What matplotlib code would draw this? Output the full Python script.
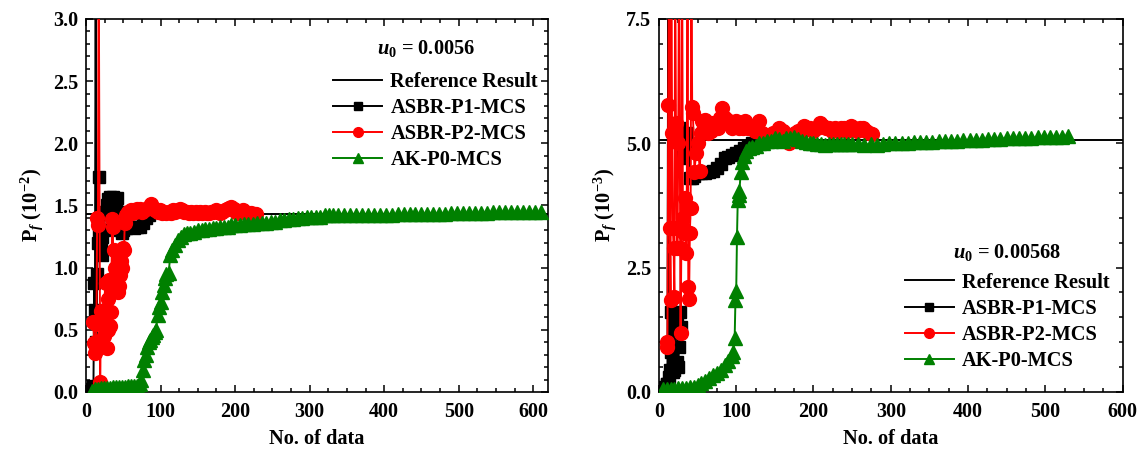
import matplotlib
matplotlib.use("Agg")
import matplotlib.pyplot as plt
from matplotlib.ticker import MultipleLocator

plt.rcParams["font.family"] = ["Liberation Serif", "DejaVu Serif"]
plt.rcParams["font.weight"] = "bold"
plt.rcParams["mathtext.fontset"] = "custom"
plt.rcParams["mathtext.rm"] = "Liberation Serif:bold"
plt.rcParams["mathtext.it"] = "Liberation Serif:italic:bold"
plt.rcParams["mathtext.bf"] = "Liberation Serif:bold"

# ---------------------------------------------------------------------------
# Data, left panel (u0 = 0.0056, Pf in 1e-2)
# ---------------------------------------------------------------------------
ref_left = 1.43

p1_left_x = [8, 10, 11, 12, 13, 14, 15, 16, 17, 18, 19, 20, 21, 22, 24, 26, 28, 30, 32, 34,
             36, 38, 40, 42, 44, 46, 48, 50, 53, 56, 60, 64, 68, 72, 76, 80, 85]
p1_left_y = [0.02, 0.05, 0.88, 0.66, 3.60, 0.40, 0.95, 1.20, 1.73, 1.30, 1.28, 1.15, 1.10, 1.25,
             1.30, 1.45, 1.50, 1.55, 1.57, 1.56, 1.57, 1.55, 1.50, 1.56, 1.45, 1.30, 1.28, 1.30,
             1.32, 1.33, 1.33, 1.32, 1.33, 1.33, 1.36, 1.40, 1.42]

p2_left_x = [10, 11, 12, 13, 14, 15, 16, 17, 19, 20, 22, 23, 24, 26, 27, 28, 29, 30, 31, 32,
             33, 34, 35, 36, 37, 38, 39, 40, 42, 43, 44, 46, 47, 48, 50, 51, 52, 54, 56, 58,
             60, 62, 64, 66, 68, 70, 72, 75, 78, 81, 84, 87, 90, 93, 96, 99, 102, 105, 108,
             111, 114, 117, 120, 123, 126, 129, 132, 135, 138, 141, 144, 147, 150, 153, 156,
             159, 162, 165, 168, 171, 174, 177, 180, 183, 186, 189, 192, 195, 198, 201, 204,
             207, 210, 213, 216, 219, 222, 225, 228]
p2_left_y = [0.56, 0.39, 0.31, 0.40, 0.55, 1.40, 1.34, 3.60, 0.08, 0.65, 0.60, 0.37, 0.45, 0.55,
             0.88, 0.35, 0.50, 0.75, 0.90, 0.53, 0.64, 0.80, 1.39, 1.33, 0.86, 1.14, 1.00, 0.90,
             0.99, 0.80, 0.85, 0.94, 1.05, 1.00, 1.16, 1.14, 1.36, 1.42, 1.45, 1.44, 1.46, 1.44,
             1.46, 1.45, 1.47, 1.46, 1.47, 1.45, 1.46, 1.47, 1.49, 1.51, 1.48, 1.46, 1.45, 1.46,
             1.44, 1.45, 1.44, 1.45, 1.44, 1.46, 1.45, 1.46, 1.47, 1.46, 1.45, 1.45, 1.44, 1.45,
             1.44, 1.45, 1.44, 1.45, 1.44, 1.45, 1.44, 1.44, 1.45, 1.45, 1.46, 1.45, 1.44, 1.45,
             1.46, 1.47, 1.48, 1.49, 1.47, 1.45, 1.44, 1.45, 1.46, 1.45, 1.44, 1.43, 1.44, 1.43,
             1.43]

p0_left_x = [8, 12, 16, 20, 24, 28, 32, 36, 40, 44, 48, 52, 56, 60, 64, 68, 72, 74, 76, 78,
             80, 82, 84, 86, 88, 90, 92, 94, 96, 98, 100, 102, 104, 106, 108, 111, 113, 116,
             120, 124, 128, 132, 136, 140, 145, 150, 155, 160, 165, 170, 175, 180, 185, 190,
             195, 200, 206, 212, 218, 224, 230, 236, 242, 248, 254, 260, 266, 272, 278, 284,
             290, 296, 302, 308, 314, 320, 326, 332, 338, 346, 354, 362, 370, 378, 386, 394,
             402, 410, 418, 426, 434, 442, 450, 458, 466, 474, 482, 490, 498, 506, 514, 522,
             530, 538, 546, 554, 562, 570, 578, 586, 594, 602, 610]
p0_left_y = [0.01, 0.02, 0.02, 0.03, 0.03, 0.03, 0.03, 0.04, 0.04, 0.04, 0.04, 0.04, 0.05, 0.05,
             0.05, 0.05, 0.06, 0.10, 0.18, 0.26, 0.30, 0.36, 0.40, 0.42, 0.44, 0.46, 0.48, 0.50,
             0.62, 0.68, 0.72, 0.80, 0.86, 0.92, 0.95, 0.96, 1.10, 1.14, 1.18, 1.22, 1.25, 1.27,
             1.28, 1.28, 1.29, 1.30, 1.30, 1.31, 1.31, 1.32, 1.32, 1.33, 1.33, 1.33, 1.34, 1.34,
             1.34, 1.35, 1.35, 1.35, 1.36, 1.36, 1.36, 1.37, 1.37, 1.38, 1.38, 1.39, 1.39, 1.40,
             1.40, 1.41, 1.41, 1.41, 1.41, 1.42, 1.42, 1.42, 1.42, 1.42, 1.42, 1.42, 1.42, 1.42,
             1.42, 1.42, 1.425, 1.425, 1.43, 1.43, 1.43, 1.43, 1.43, 1.435, 1.435, 1.435, 1.435,
             1.44, 1.44, 1.44, 1.44, 1.44, 1.44, 1.44, 1.445, 1.445, 1.445, 1.445, 1.445, 1.445,
             1.445, 1.445, 1.445]

# ---------------------------------------------------------------------------
# Data, right panel (u0 = 0.00568, Pf in 1e-3)
# ---------------------------------------------------------------------------
ref_right = 5.07

p1_right_x = [8, 10, 11, 12, 13, 14, 15, 16, 17, 18, 19, 20, 21, 22, 23, 24, 25, 26, 27, 28,
              29, 30, 31, 32, 33, 34, 35, 36, 38, 40, 43, 46, 50, 55, 60, 65, 70, 75, 80, 85,
              90, 95, 100, 105, 110, 115, 120, 125, 130]
p1_right_y = [0.10, 0.15, 0.15, 8.50, 0.30, 0.45, 1.60, 0.80, 0.45, 0.40, 0.45, 0.50, 1.20,
              1.50, 1.40, 0.60, 0.50, 0.90, 1.60, 1.30, 5.30, 5.20, 4.80, 5.00, 4.70, 5.10,
              4.90, 5.20, 4.90, 4.30, 4.30, 4.35, 4.40, 4.40, 4.40, 4.42, 4.45, 4.50, 4.58,
              4.70, 4.72, 4.76, 4.80, 4.85, 4.90, 4.95, 5.00, 5.00, 5.02]

p2_right_x = [10, 11, 12, 13, 14, 15, 16, 17, 18, 19, 20, 21, 22, 23, 24, 25, 26, 28, 29, 30,
              31, 32, 34, 35, 36, 37, 38, 39, 40, 41, 42, 43, 44, 46, 48, 50, 53, 54, 56, 58,
              60, 62, 64, 66, 68, 70, 73, 76, 79, 82, 85, 88, 91, 94, 97, 100, 103, 106, 109,
              112, 115, 118, 121, 124, 127, 130, 133, 136, 140, 144, 148, 152, 156, 160, 164,
              168, 172, 176, 180, 184, 188, 192, 196, 200, 204, 208, 212, 216, 220, 224, 228,
              232, 236, 240, 244, 248, 252, 256, 260, 264, 268, 272, 276]
p2_right_y = [1.00, 0.90, 5.77, 9.00, 3.30, 1.85, 9.00, 5.20, 3.30, 2.90, 1.90, 9.00, 5.40,
              3.30, 2.90, 5.00, 9.00, 1.18, 2.90, 9.00, 3.50, 3.20, 3.90, 2.80, 3.70, 9.00,
              2.10, 1.87, 3.20, 3.70, 9.00, 5.73, 5.60, 4.43, 4.80, 5.00, 4.45, 5.20, 5.45,
              5.30, 5.46, 5.30, 5.20, 5.30, 5.25, 5.40, 5.40, 5.30, 5.50, 5.70, 5.50, 5.40,
              5.45, 5.30, 5.40, 5.45, 5.30, 5.35, 5.30, 5.45, 5.30, 5.30, 5.35, 5.25, 5.30,
              5.45, 5.20, 5.15, 5.10, 5.15, 5.20, 5.20, 5.30, 5.25, 5.10, 5.00, 5.05, 5.20,
              5.25, 5.20, 5.35, 5.30, 5.30, 5.25, 5.30, 5.40, 5.35, 5.30, 5.30, 5.25, 5.30,
              5.25, 5.30, 5.30, 5.25, 5.35, 5.30, 5.25, 5.30, 5.30, 5.25, 5.20, 5.18]

p0_right_x = [5, 10, 15, 20, 25, 30, 35, 40, 45, 50, 55, 60, 65, 70, 75, 80, 85, 90, 94, 96,
              98, 99, 100, 101, 102, 103, 104, 106, 108, 110, 113, 116, 120, 125, 130, 135,
              140, 145, 150, 155, 160, 165, 170, 175, 180, 185, 190, 195, 200, 205, 210, 215,
              220, 225, 230, 235, 240, 245, 250, 258, 266, 274, 282, 290, 298, 306, 314, 322,
              330, 338, 346, 354, 362, 370, 378, 386, 394, 402, 410, 418, 426, 434, 442, 450,
              458, 466, 474, 482, 490, 498, 506, 514, 522, 530]
p0_right_y = [0.05, 0.05, 0.06, 0.06, 0.07, 0.07, 0.08, 0.09, 0.10, 0.14, 0.18, 0.22, 0.28,
              0.34, 0.38, 0.45, 0.54, 0.62, 0.72, 0.81, 1.08, 1.85, 2.02, 3.12, 3.86, 3.95,
              4.03, 4.43, 4.63, 4.75, 4.85, 4.90, 4.92, 4.95, 5.00, 5.00, 5.05, 5.05, 5.10,
              5.08, 5.05, 5.10, 5.10, 5.12, 5.08, 5.05, 5.02, 5.00, 5.00, 4.98, 4.98, 4.97,
              4.98, 4.98, 4.98, 4.99, 4.99, 4.98, 4.98, 4.98, 4.97, 4.98, 4.97, 4.99, 5.00,
              5.00, 5.01, 5.01, 5.02, 5.02, 5.03, 5.03, 5.04, 5.04, 5.05, 5.05, 5.06, 5.06,
              5.07, 5.07, 5.08, 5.09, 5.09, 5.10, 5.10, 5.10, 5.11, 5.11, 5.12, 5.12, 5.13,
              5.13, 5.13, 5.14]


GREEN = "#008000"
FS = 14.7


def style_axes(ax, xmax, ymax, ymajor, yminor, ylabel):
    ax.set_xlim(0, xmax)
    ax.set_ylim(0, ymax)
    ax.xaxis.set_major_locator(MultipleLocator(100))
    ax.xaxis.set_minor_locator(MultipleLocator(25))
    ax.yaxis.set_major_locator(MultipleLocator(ymajor))
    ax.yaxis.set_minor_locator(MultipleLocator(yminor))
    ax.tick_params(which="both", direction="in", top=True, right=True,
                   labelsize=14.5, width=1.1)
    ax.tick_params(which="major", length=5)
    ax.tick_params(which="minor", length=3)
    ax.tick_params(axis="x", which="major", pad=7)
    ax.tick_params(axis="y", which="major", pad=5.5)
    for s in ax.spines.values():
        s.set_linewidth(1.2)
    for lab in ax.get_xticklabels() + ax.get_yticklabels():
        lab.set_fontweight("bold")
    ax.set_xlabel("No. of data", fontsize=FS, fontweight="bold", labelpad=5)
    ax.set_ylabel(ylabel, fontsize=FS, fontweight="bold", labelpad=6)


def draw_panel(ax, ref, p1x, p1y, p2x, p2y, p0x, p0y, u0_text, u0_pos, leg_anchor):
    ax.axhline(ref, color="black", lw=1.4, zorder=1, label="Reference Result")
    ax.plot(p1x, p1y, color="black", lw=1.4, marker="s", ms=8, zorder=2,
            label="ASBR-P1-MCS")
    ax.plot(p2x, p2y, color="red", lw=1.4, marker="o", ms=10, zorder=3,
            label="ASBR-P2-MCS")
    ax.plot(p0x, p0y, color=GREEN, lw=1.4, marker="^", ms=10, zorder=4,
            label="AK-P0-MCS")
    ax.text(u0_pos[0], u0_pos[1], u0_text, transform=ax.transAxes,
            ha="center", va="center", fontsize=FS, fontweight="bold")
    ax.legend(loc="upper left", bbox_to_anchor=leg_anchor, frameon=False,
              borderpad=0, borderaxespad=0, handlelength=2.4, handletextpad=0.4,
              labelspacing=0.3, markerscale=0.7,
              prop={"weight": "bold", "size": FS})


fig = plt.figure(figsize=(11.42, 4.5), dpi=100)
ax1 = fig.add_axes([0.0753, 0.129, 0.4047, 0.829])
ax2 = fig.add_axes([0.577, 0.129, 0.406, 0.829])

draw_panel(ax1, ref_left, p1_left_x, p1_left_y, p2_left_x, p2_left_y,
           p0_left_x, p0_left_y, r"$u_{\mathit{0}}$ = 0.0056", (0.735, 0.92), (0.535, 0.858))
style_axes(ax1, 620, 3.0, 0.5, 0.1, r"P$_{\mathit{f}}$ (10$^{-2}$)")

draw_panel(ax2, ref_right, p1_right_x, p1_right_y, p2_right_x, p2_right_y,
           p0_right_x, p0_right_y, r"$u_{\mathit{0}}$ = 0.00568", (0.75, 0.373), (0.53, 0.32))
style_axes(ax2, 600, 7.5, 2.5, 0.5, r"P$_{\mathit{f}}$ (10$^{-3}$)")

fig.savefig("out.png", dpi=100)
